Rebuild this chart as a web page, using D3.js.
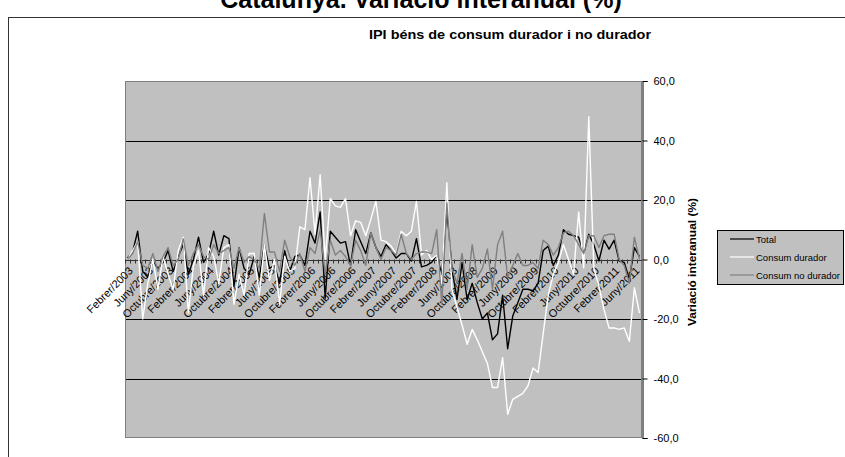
<!DOCTYPE html>
<html><head><meta charset="utf-8">
<script src="https://cdn.jsdelivr.net/npm/d3@7"></script>
<style>
body{margin:0;background:#fff;}
svg{display:block;font-family:"Liberation Sans",Arial,sans-serif;}
</style></head>
<body><svg id="c" width="845" height="457"></svg>
<script>
const monthNames = ["Gener","Febrer","Març","Abril","Maig","Juny","Juliol","Agost","Setembre","Octubre","Novembre","Desembre"];
const startYear = 2003, startMonth = 1, nMonths = 102;
const categories = d3.range(nMonths).map(i => {
  const m = startMonth + i;
  return monthNames[m % 12] + "/" + (startYear + Math.floor(m / 12));
});
const yTicks = [-60, -40, -20, 0, 20, 40, 60];

const total = [0.5,2.5,9.5,-4,-6,-0.5,-3,-1,3,-4, 1,5,-5,0,7.5,-1,2,9.5,1.5,8,
 7,-9,4,-3,-5,1,-6,5,-3,-2, -8,3,-4,1,1.5,-2,9.5,5.5,16,-13,
 9.5,7.5,5.5,6,-2,10,6,2,9,4, 1,5,3,0.5,2,2,-0.5,7,-2.5,-2,
 -1,1.5,-5,17,-3,-13.5,-1,-13.5,-8,-14.5, -20,-18,-27,-25,-12,-30,-19,-14.5,-10,-10,
 -10.5,-8,3,4.5,-2,1.5,10,8.5,8,7.5, 2,8.5,5,-0.5,6.5,3.5,6.5,-0.5,-1,-6.5, 4,1];
const durador = [0,3,6,-20,-8,0,-10,1,-5,-10, 3,7.5,-18,-2,3,-12,4,1,-8,4,
 5,-15,-5,-12,2,2,-12,5,-7,0, -15,1,-4,-3,11,10,27.5,8.5,28.5,0,
 20.5,18,17.5,20.5,8,13,12.5,8,13.5,19.5, 6.5,6,4.5,2,9.5,8,9.5,19.5,1.5,3,
 0,1.5,-8,25.8,-10,-16,-22,-28.5,-23.5,-27, -31,-35,-43,-43,-33,-52,-47,-46,-45,-42.5,
 -36.5,-38,-25,-12,-5,-1,5,0,-5,16, -2.8,48,-3,-9,-16.8,-23,-23,-23.5,-23,-27.5, -9.5,-18];
const noDurador = [0,2,6,-2,-3,2,-4,1,4,-2, 0,7,-2,2,5,1,0,5,2,3,
 4,-3,4,-1,1,0,-3,15.5,2.5,2.5, -4,6.5,1,-2,2,-4,4,2,10,-5,
 6.5,1.5,3,1,-2,6.5,3,-2,9,4, 0,4,3,1.5,8.5,2,0,2,2.5,2.5,
 2,10,-15,19,-3,-8,2,-10,5,-6, -3,3.5,-10,5,9.5,-6,-2,2,-2,-2,
 -1,-3,6.5,5,1.5,4,9,9.5,8,5, 2,8,8,4,8,8.5,8.5,0,-2,-8, 7.5,0];

const seriesNames = ["Total","Consum durador","Consum no durador"];
const seriesData = [total, durador, noDurador];
const seriesColors = ["#000000","#ffffff","#808080"];

const svg = d3.select("#c");
const L = 125, R = 642, T = 81, B = 438;

// outer frame
svg.append("rect").attr("x",8.5).attr("y",17.5).attr("width",900).attr("height",500)
  .attr("fill","#fff").attr("stroke","#333").attr("stroke-width",1);

// title
svg.append("text").attr("x",421).attr("y",8).attr("text-anchor","middle")
  .attr("font-size",25).attr("font-weight","bold").text("Catalunya. Variació interanual (%)");
svg.append("text").attr("x",510).attr("y",39).attr("text-anchor","middle")
  .attr("font-size",13).attr("font-weight","bold")
  .attr("textLength",282).attr("lengthAdjust","spacingAndGlyphs")
  .text("IPI béns de consum durador i no durador");

const x = d3.scaleBand().domain(categories).range([L, R]).padding(0);
const y = d3.scaleLinear().domain([-60, 60]).range([B, T]);
const cx = c => x(c) + x.bandwidth() / 2;

// plot area
svg.append("rect").attr("x",L).attr("y",T).attr("width",R-L).attr("height",B-T)
  .attr("fill","#c0c0c0");
// gridlines
svg.append("g").selectAll("line").data(yTicks.filter(v => v !== 0 && Math.abs(v) !== 60)).join("line")
  .attr("x1",L).attr("x2",R).attr("y1",d => Math.round(y(d))+0.5).attr("y2",d => Math.round(y(d))+0.5)
  .attr("stroke","#000").attr("stroke-width",1);
svg.append("rect").attr("x",L+0.5).attr("y",T+0.5).attr("width",R-L-1).attr("height",B-T-1)
  .attr("fill","none").attr("stroke","#808080").attr("stroke-width",1);

// category axis at zero
const y0 = Math.round(y(0)) + 0.5;
svg.append("line").attr("x1",L).attr("x2",R).attr("y1",y0).attr("y2",y0)
  .attr("stroke","#333").attr("stroke-width",1.2);
svg.append("g").selectAll("line").data(categories).join("line")
  .attr("x1",d => Math.round(x(d))+0.5).attr("x2",d => Math.round(x(d))+0.5)
  .attr("y1",y0-1).attr("y2",y0+3).attr("stroke","#333").attr("stroke-width",1);

// x labels every 4 months
const labelCats = categories.filter((d,i) => i % 4 === 0);
svg.append("g").selectAll("text").data(labelCats).join("text")
  .attr("transform",d => `translate(${cx(d)+6},${y0+11}) rotate(-45)`)
  .attr("text-anchor","end").attr("font-size",11).attr("fill","#000").text(d => d);

// lines
const line = d3.line().x((d,i) => cx(categories[i])).y(d => y(d));
seriesData.forEach((s, k) => {
  svg.append("path").datum(s).attr("d",line).attr("fill","none")
    .attr("stroke",seriesColors[k]).attr("stroke-width",1.4).attr("stroke-linejoin","round");
});

// right axis
const ax = svg.append("g").attr("transform",`translate(${R+0.5},0)`)
  .call(d3.axisRight(y).tickValues(yTicks).tickSize(5).tickPadding(6)
    .tickFormat(d => d.toFixed(1).replace(".", ",")));
ax.select(".domain").attr("stroke","#000");
ax.selectAll(".tick line").attr("stroke","#000");
ax.selectAll("text").attr("font-size",11).attr("font-family","Liberation Sans, Arial, sans-serif").attr("fill","#000");

// y title
svg.append("text").attr("transform","translate(696,262) rotate(-90)").attr("text-anchor","middle")
  .attr("font-size",11.5).attr("font-weight","bold")
  .attr("textLength",128).attr("lengthAdjust","spacingAndGlyphs").text("Variació interanual (%)");

// legend
const lg = svg.append("g");
lg.append("rect").attr("x",717.5).attr("y",230.5).attr("width",126).attr("height",54)
  .attr("fill","#c0c0c0").attr("stroke","#000").attr("stroke-width",1);
seriesNames.forEach((n,k) => {
  const yy = 239 + k*18;
  lg.append("line").attr("x1",730).attr("x2",754).attr("y1",yy).attr("y2",yy)
    .attr("stroke",seriesColors[k]).attr("stroke-width",1.2);
  lg.append("text").attr("x",756).attr("y",yy+3.5).attr("font-size",9.5).text(n);
});
</script></body></html>
